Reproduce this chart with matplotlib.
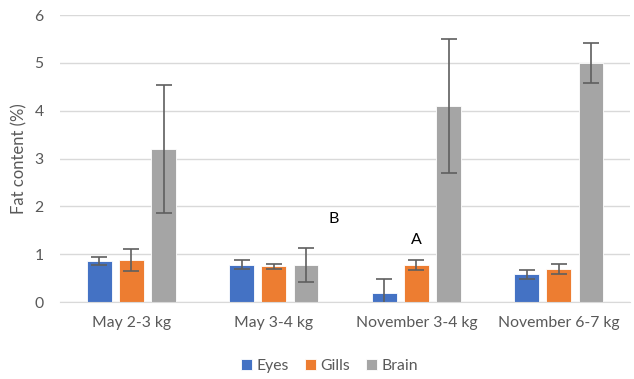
import numpy as np
import matplotlib
matplotlib.use("Agg")
import matplotlib.pyplot as plt

plt.rcParams['font.family'] = ['Lato', 'DejaVu Sans']

categories = ['May 2-3 kg', 'May 3-4 kg', 'November 3-4 kg', 'November 6-7 kg']
series = ['Eyes', 'Gills', 'Brain']
eyes = [0.86, 0.78, 0.18, 0.58]
eyes_err = [0.09, 0.09, 0.30, 0.10]
gills = [0.88, 0.75, 0.78, 0.69]
gills_err = [0.22, 0.05, 0.10, 0.10]
brain = [3.20, 0.78, 4.10, 5.00]
brain_err = [1.33, 0.36, 1.40, 0.41]
colors = ['#4472C4', '#ED7D31', '#A5A5A5']

# letter annotations: (text, x position in category units, y value)
notes = [('B', 1.42, 1.6), ('A', 2.0, 1.15)]

fig = plt.figure(figsize=(6.34, 3.79), dpi=100)
ax = fig.add_axes([0.095, 0.203, 0.899, 0.757])

x = np.arange(len(categories))
width = 0.175
offsets = [-0.225, 0, 0.225]
for vals, errs, off, col, name in zip([eyes, gills, brain],
                                      [eyes_err, gills_err, brain_err],
                                      offsets, colors, series):
    ax.bar(x + off, vals, width, color=col, edgecolor='white', linewidth=0.6,
           label=name, zorder=2)
    ax.errorbar(x + off, vals, yerr=errs, fmt='none', ecolor='#5F5F5F',
                elinewidth=1.2, capsize=5.5, capthick=1.2, zorder=3)

for txt, xp, yp in notes:
    ax.text(xp, yp, txt, ha='center', va='bottom', fontsize=11.5, color='black')

ax.set_xlim(-0.5, len(categories) - 0.5)
ax.set_ylim(0, 6)
ax.set_yticks(range(0, 7))
ax.set_xticks(x)
ax.set_xticklabels(categories)
ax.tick_params(axis='both', length=0, labelsize=11.3, labelcolor='#595959')
ax.tick_params(axis='y', pad=12)
ax.tick_params(axis='x', pad=10)
ax.grid(axis='y', color='#D9D9D9', linewidth=1, zorder=0)
ax.set_axisbelow(True)
for s in ['top', 'right', 'left']:
    ax.spines[s].set_visible(False)
ax.spines['bottom'].set_color('#D9D9D9')
ax.set_ylabel('Fat content (%)', fontsize=12, color='#595959', labelpad=5)

fig.legend(loc='center', bbox_to_anchor=(0.52, 0.035), ncol=3, frameon=False,
           fontsize=11.3, handlelength=0.7, handleheight=0.7, handletextpad=0.3,
           columnspacing=1.0, labelcolor='#595959')

fig.savefig('out.png', dpi=100)
